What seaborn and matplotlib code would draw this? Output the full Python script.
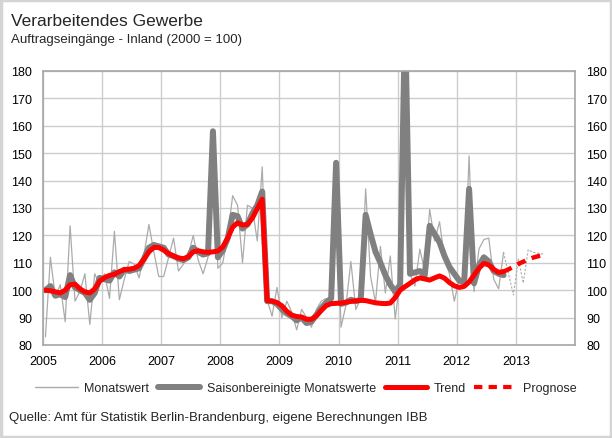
import numpy as np
import pandas as pd
import matplotlib
matplotlib.use("Agg")
import matplotlib.pyplot as plt
import seaborn as sns
from matplotlib.lines import Line2D
from matplotlib.patches import Rectangle

# monthly values Jan 2005 .. Oct 2012 (index 2000 = 100)
monatswert = [83, 112, 97.5, 102, 88.5, 123.5, 96, 99.5, 106, 87.5, 106, 102,
              106, 97, 121.5, 96.5, 104, 110.5, 109.5, 104.5, 113, 124, 114, 105,
              105, 112, 119, 107, 109.5, 113, 120, 111, 106, 112, 158, 108,
              110, 120, 134.5, 131, 110, 131, 130, 118, 145, 96.5, 90.5, 101,
              90, 96, 92, 85.5, 93, 90, 86.5, 93, 96, 97, 96, 147,
              86.5, 94.5, 110.5, 93, 97, 137, 105, 95.5, 116, 99, 112.5, 89.5,
              104, 200, 106, 101.5, 115, 107, 129.5, 118, 125, 111.5, 106, 96,
              104, 102, 149, 99.5, 115, 118.5, 119, 104, 100.5, 113.8]
saisonbereinigt = [100, 101.5, 98, 98.5, 97.5, 105.5, 101, 100, 99, 96.5, 99, 104.5,
                   104, 103.5, 106.5, 105, 107.5, 107, 107.5, 108, 111.5, 115.5, 116.5, 116,
                   115.5, 113, 112.5, 111.5, 111, 112, 115.5, 114, 113, 113.5, 158, 112,
                   114.5, 119, 127.5, 127, 122.5, 124, 128, 131, 136, 96, 96, 95,
                   93, 91.5, 90.5, 89, 90, 88, 88.5, 91, 93.5, 95.5, 97, 146.5,
                   95, 95.5, 96.5, 96, 96.5, 127.5, 120.5, 114, 110, 105.5, 102, 99.5,
                   102, 200, 106, 106.5, 107, 105.5, 123.5, 120.5, 117.5, 112.5, 108.5, 106,
                   103.5, 103, 137, 102.5, 109, 112, 110.5, 107, 106, 105.5]
trend = [100, 99.8, 99.4, 99, 100, 102, 102.2, 100.5, 99.4, 99, 100.5, 103.3,
         104.6, 105.4, 105.8, 106.8, 107.5, 107.7, 108, 109, 111.3, 114, 115.6, 115.6,
         114.6, 113.4, 112.4, 111.8, 111.5, 112.2, 114, 114.4, 114, 113.8, 114, 114.3,
         115.8, 119, 123, 124.6, 123.8, 124, 126.3, 129.8, 133.2, 96.2, 96, 95.5,
         94.3, 92.3, 90.9, 90.4, 90.2, 89.4, 89.4, 90.6, 92.6, 94.4, 95.1, 95.2,
         95.3, 95.6, 95.9, 96.1, 96.3, 96.2, 95.8, 95.4, 95.2, 95.1, 95.3, 97.3,
         100, 101.3, 102.5, 103.8, 104.5, 104.1, 103.7, 104.5, 105.2, 104.4, 102.8, 101.6,
         101, 101.4, 103, 105.5, 108, 109.8, 109.2, 107.6, 106.5, 106.8]
# forecast Oct 2012 .. Jun 2013
prognose_trend = [106.8, 107.6, 108.6, 109.6, 110.4, 111.2, 111.9, 112.4, 112.8]
prognose_monat = [113.8, 106, 98.3, 111.4, 102.6, 114.8, 113.8, 113.5, 113.2]

years = list(range(2005, 2015))
year_labels = [str(y) for y in range(2005, 2014)] + [""]
y_ticks = list(range(80, 190, 10))

n = len(trend)
df = pd.DataFrame({
    "x": 2005 + (np.arange(n) + 0.5) / 12,
    "monat": monatswert,
    "saison": saisonbereinigt,
    "trend": trend,
})
df_p = pd.DataFrame({
    "x": 2005 + (np.arange(n - 1, n - 1 + len(prognose_trend)) + 0.5) / 12,
    "trend": prognose_trend,
    "monat": prognose_monat,
})

sns.set_style("white")
plt.rcParams["font.family"] = ["Liberation Sans", "DejaVu Sans"]

fig = plt.figure(figsize=(6.12, 4.39), dpi=100)
ax = fig.add_axes([43 / 612, 1 - 346 / 439, (575 - 43) / 612, (346 - 72) / 439])

grid_c = "#cccccc"
sns.lineplot(data=df, x="x", y="monat", ax=ax, color="#ababab", linewidth=0.9)
sns.lineplot(data=df_p, x="x", y="monat", ax=ax, color="#ababab", linewidth=0.8,
             linestyle=(0, (2, 1.5)))
sns.lineplot(data=df, x="x", y="saison", ax=ax, color="#808080", linewidth=4.3)
sns.lineplot(data=df, x="x", y="trend", ax=ax, color="#ff0000", linewidth=3.6)
sns.lineplot(data=df_p, x="x", y="trend", ax=ax, color="#ff0000", linewidth=3.2,
             linestyle=(0, (2.0, 1.5)))

ax.set_xlim(2005, 2014)
ax.set_ylim(80, 180)
ax.set_xticks(years)
ax.set_xticklabels(year_labels)
ax.set_yticks(y_ticks)
ax.set_xlabel("")
ax.set_ylabel("")
ax.grid(True, color=grid_c, linewidth=1.0)
ax.set_axisbelow(True)
for s in ax.spines.values():
    s.set_color("#a6a6a6")
    s.set_linewidth(1.2)
ax.tick_params(axis="both", length=0, labelsize=9, colors="black")
ax.tick_params(axis="y", labelright=True, pad=8)
ax.tick_params(axis="x", pad=7)

# title and subtitle
fig.text(11 / 612, 1 - 22 / 439, "Verarbeitendes Gewerbe", fontsize=12.5, va="center")
fig.text(11 / 612, 1 - 40 / 439, "Auftragseingänge - Inland (2000 = 100)",
         fontsize=9.5, va="center")

handles = [
    Line2D([], [], color="#ababab", linewidth=1.0),
    Line2D([], [], color="#808080", linewidth=4.3),
    Line2D([], [], color="#ff0000", linewidth=3.6),
    Line2D([], [], color="#ff0000", linewidth=3.0, linestyle=(0, (2.0, 1.5))),
]
labels = ["Monatswert", "Saisonbereinigte Monatswerte", "Trend", "Prognose"]
fig.legend(handles, labels, loc="center", ncol=4, frameon=False,
           bbox_to_anchor=(306 / 612, 1 - 389 / 439), fontsize=9,
           handlelength=3.4, handletextpad=0.5, columnspacing=0.7)

fig.text(9 / 612, 1 - 418 / 439,
         "Quelle: Amt für Statistik Berlin-Brandenburg, eigene Berechnungen IBB",
         fontsize=9.5, va="center")

# outer frame
fig.patches.append(Rectangle((0.002, 0.003), 0.996, 0.994, transform=fig.transFigure,
                             fill=False, edgecolor="#d4d4d4", linewidth=2.5))

fig.savefig("out.png", dpi=100)
